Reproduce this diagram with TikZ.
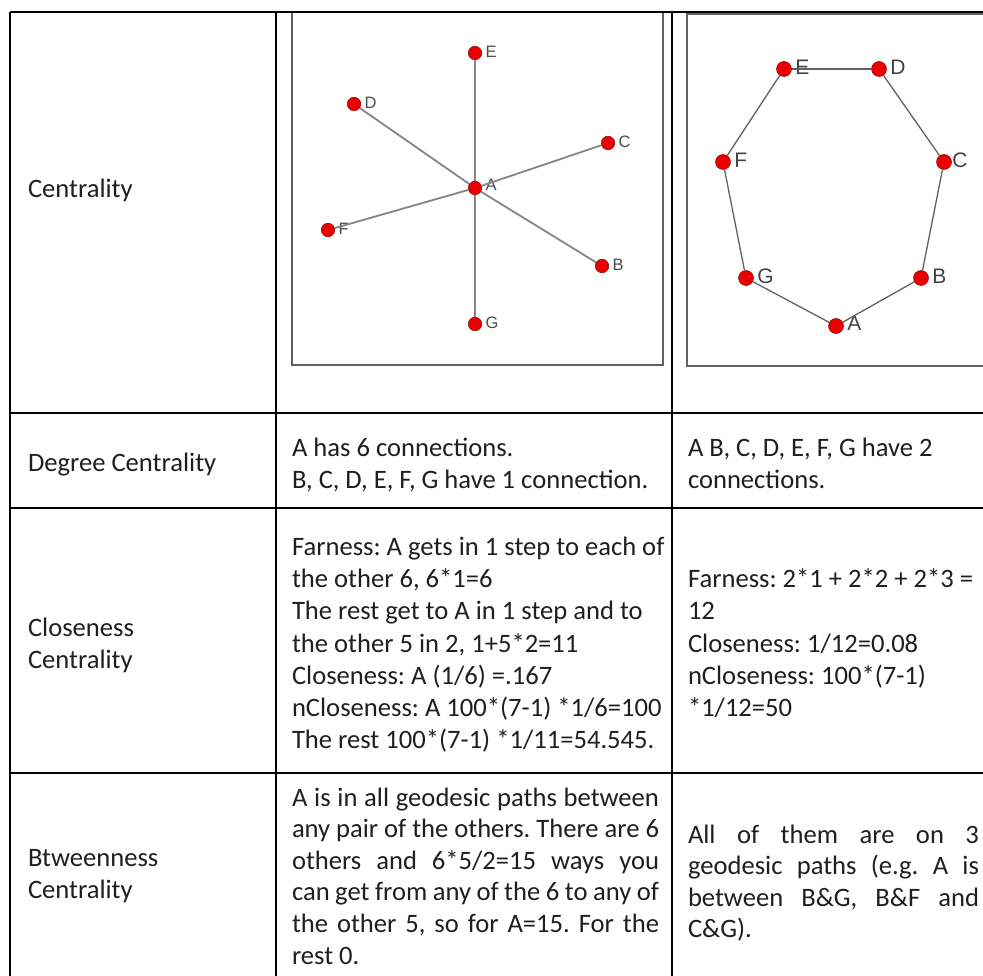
\documentclass[tikz,border=0pt]{standalone}
\usepackage{fontspec}
\setmainfont{Carlito}
\newfontfamily\lblfont{Liberation Sans}
% a justified line of given width (in pt)
\newcommand{\jline}[2]{\makebox[#1pt][s]{#2}}
\begin{document}
\frenchspacing
\begin{tikzpicture}[x=1pt,y=-1pt,
  txt/.style={anchor=base west, inner sep=0pt, outer sep=0pt, text=black!88,
    font=\fontsize{26.6}{32}\selectfont},
  gbox/.style={draw=black!62, line width=1.4pt},
  rule/.style={draw=black, line width=1.6pt},
  dotA/.style={circle, fill=red!92!black, draw=red!55!black, line width=0.5pt,
    minimum size=13.5pt, inner sep=0pt},
  dotB/.style={dotA, minimum size=15pt},
  edgeA/.style={draw=black!48, line width=1.8pt},
  edgeB/.style={draw=black!62, line width=1.3pt},
  lblA/.style={font=\lblfont\fontsize{16.5}{16.5}\selectfont, text=black!70, inner sep=0pt, yshift=1.5pt},
  lblB/.style={font=\lblfont\fontsize{21}{21}\selectfont, text=black!74, inner sep=0pt, yshift=1.5pt},
  label distance=3.5pt,
]
\useasboundingbox (0,0) rectangle (983,976);
\clip (0,0) rectangle (983,976);
\fill[white] (0,0) rectangle (983,976);

% ---- star graph ----
\draw[gbox] (292,12) rectangle (663,365);
\node[dotA, label={[lblA]right:E}] (a-E) at (475,53) {};
\node[dotA, label={[lblA]right:D}] (a-D) at (354,104) {};
\node[dotA, label={[lblA]right:C}] (a-C) at (608,143) {};
\node[dotA, label={[lblA, yshift=1.5pt]right:A}] (a-A) at (475,188) {};
\node[dotA, label={[lblA]right:F}] (a-F) at (328,230) {};
\node[dotA, label={[lblA]right:B}] (a-B) at (602,266) {};
\node[dotA, label={[lblA]right:G}] (a-G) at (475,324) {};
\foreach \n in {E,D,C,F,B,G}
  \draw[edgeA] (a-A) -- (a-\n);

% ---- ring graph ----
\draw[gbox] (687,14) rectangle (1000,366);
\node[dotB, label={[lblB]right:E}] (b-E) at (784,69) {};
\node[dotB, label={[lblB]right:D}] (b-D) at (879,69) {};
\node[dotB, label={[lblB, xshift=-3pt]right:C}] (b-C) at (944,162) {};
\node[dotB, label={[lblB]right:F}] (b-F) at (723,162) {};
\node[dotB, label={[lblB]right:B}] (b-B) at (921,278) {};
\node[dotB, label={[lblB]right:G}] (b-G) at (746,278) {};
\node[dotB, label={[lblB, yshift=1.5pt]right:A}] (b-A) at (836,326) {};
\draw[edgeB] (b-E) -- (b-D);
\draw[edgeB] (b-D) -- (b-C);
\draw[edgeB] (b-C) -- (b-B);
\draw[edgeB] (b-B) -- (b-A);
\draw[edgeB] (b-A) -- (b-G);
\draw[edgeB] (b-G) -- (b-F);
\draw[edgeB] (b-F) -- (b-E);

% ---- table rules ----
\draw[rule] (10,12) -- (983,12);
\foreach \yy in {413,508,773}
  \draw[rule] (10,\yy) -- (983,\yy);
\foreach \xx in {10,276,672}
  \draw[rule] (\xx,12) -- (\xx,976);

% ---- first column ----
\node[txt] (h-cent) at (28,198) {Centrality};
\node[txt] (h-deg) at (28,471) {Degree Centrality};
\node[txt] (h-clo1) at (28,636) {Closeness};
\node[txt] (h-clo2) at (28,668) {Centrality};
\node[txt] (h-btw1) at (28,866) {Btweenness};
\node[txt] (h-btw2) at (28,898) {Centrality};

% ---- degree ----
\foreach \t [count=\i from 0] in {{A has 6 connections.},{B, C, D, E, F, G have 1 connection.}}
  \node[txt] (deg2-\i) at (292,{456.5+32*\i}) {\t};
\foreach \t [count=\i from 0] in {{A B, C, D, E, F, G have 2},{connections.}}
  \node[txt] (deg3-\i) at (688,{456.5+32*\i}) {\t};

% ---- closeness ----
\foreach \t [count=\i from 0] in {
  {Farness: A gets in 1 step to each of},
  {the other 6, 6*1=6},
  {The rest get to A in 1 step and to},
  {the other 5 in 2, 1+5*2=11},
  {Closeness: A (1/6) =.167},
  {nCloseness: A 100*(7-1) *1/6=100},
  {The rest 100*(7-1) *1/11=54.545.}}
  \node[txt] (clo2-\i) at (292,{555.5+32.2*\i}) {\t};
\foreach \t [count=\i from 0] in {
  {Farness: 2*1 + 2*2 + 2*3 =},
  {12},
  {Closeness: 1/12=0.08},
  {nCloseness: 100*(7-1)},
  {*1/12=50}}
  \node[txt] (clo3-\i) at (688,{587.7+32.2*\i}) {\t};

% ---- betweenness ----
\foreach \t [count=\i from 0] in {
  {\jline{367}{A is in all geodesic paths between}},
  {\jline{367}{any pair of the others. There are 6}},
  {\jline{367}{others and 6*5/2=15 ways you}},
  {\jline{367}{can get from any of the 6 to any of}},
  {\jline{367}{the other 5, so for A=15. For the}},
  {rest 0.}}
  \node[txt] (btw2-\i) at (292,{806+31.6*\i}) {\t};
\foreach \t [count=\i from 0] in {
  {\jline{291}{All of them are on 3}},
  {\jline{291}{geodesic paths (e.g. A is}},
  {\jline{291}{between B\&G, B\&F and}},
  {C\&G).}}
  \node[txt] (btw3-\i) at (688,{843+31.6*\i}) {\t};
\end{tikzpicture}
\end{document}
